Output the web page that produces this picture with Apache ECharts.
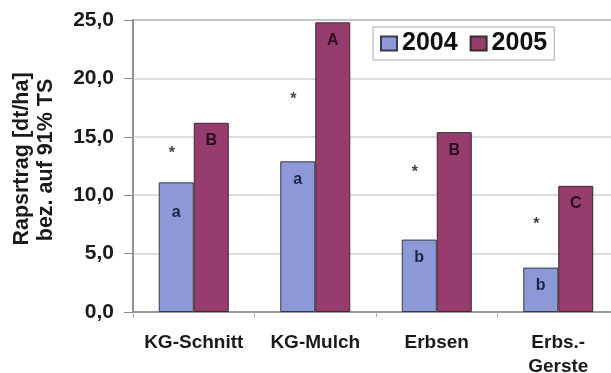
<!DOCTYPE html>
<html>
<head>
<meta charset="utf-8">
<script src="https://cdn.jsdelivr.net/npm/echarts@6/dist/echarts.min.js"></script>
<style>
  html, body { margin: 0; padding: 0; background: #fff; }
  #chart { width: 611px; height: 373px; }
</style>
</head>
<body>
<div id="chart"></div>
<script>
// Rapsertrag je Vorfrucht, 2004 und 2005
const categories = ['KG-Schnitt', 'KG-Mulch', 'Erbsen', 'Erbs.-\nGerste'];
const yield2004 = [11.1, 12.9, 6.2, 3.8];
const yield2005 = [16.2, 24.8, 15.4, 10.8];
const letters2004 = ['a', 'a', 'b', 'b'];
const letters2005 = ['B', 'A', 'B', 'C'];
// Höhe der Signifikanz-Sternchen (*) zwischen den Jahren
const starHeights = [13.8, 18.4, 12.2, 7.7];
const yTicks = [0, 5, 10, 15, 20, 25];
const yTickLabels = ['0,0', '5,0', '10,0', '15,0', '20,0', '25,0'];

const FONT = '"Liberation Sans", Arial, sans-serif';
const chart = echarts.init(document.getElementById('chart'), null, { renderer: 'canvas' });

chart.setOption({
  animation: false,
  textStyle: { fontFamily: FONT },
  grid: {
    left: 133, right: -8, top: 20, bottom: 61,
    outerBoundsMode: 'none', containLabel: false,
    show: true, borderColor: '#8a8a8a', borderWidth: 1.5, backgroundColor: 'transparent'
  },
  legend: {
    data: ['2004', '2005'],
    left: 373, top: 27,
    icon: 'rect', itemWidth: 16, itemHeight: 14, itemGap: 12,
    padding: [4, 7, 4, 7],
    borderColor: '#a8a8a8', borderWidth: 1, backgroundColor: '#fff',
    textStyle: { fontFamily: FONT, fontSize: 25, fontWeight: 'bold', color: '#111' }
  },
  xAxis: {
    type: 'category',
    data: categories,
    axisLine: { lineStyle: { color: '#8a8a8a', width: 1.5 } },
    axisTick: { show: true, interval: 0, length: 5, lineStyle: { color: '#aaa' } },
    axisLabel: {
      interval: 0, margin: 19, fontFamily: FONT, fontSize: 19, fontWeight: 'bold',
      color: '#1a1a1a', lineHeight: 24
    }
  },
  yAxis: {
    type: 'value',
    min: 0, max: 25, interval: 5,
    axisLine: { show: true, lineStyle: { color: '#8a8a8a', width: 1.5 } },
    axisTick: { show: true, inside: false, length: 9, lineStyle: { color: '#8a8a8a' } },
    axisLabel: {
      margin: 19, fontFamily: FONT, fontSize: 21, fontWeight: 'bold', color: '#1a1a1a',
      formatter: v => yTickLabels[yTicks.indexOf(v)]
    },
    splitLine: { lineStyle: { color: '#cfcfcf', width: 1.5 } }
  },
  series: [
    {
      name: '2004', type: 'bar',
      data: yield2004.map((v, i) => ({
        value: v,
        label: { distance: i === 0 ? 22 : 10 }
      })),
      barWidth: 35, barGap: '0%',
      itemStyle: { color: '#8c99d6', borderColor: '#3a3a4a', borderWidth: 1 },
      label: {
        show: true, position: 'insideTop',
        formatter: p => letters2004[p.dataIndex],
        fontFamily: FONT, fontSize: 16, fontWeight: 'bold', color: '#1c2448'
      }
    },
    {
      name: '2005', type: 'bar',
      data: yield2005,
      barWidth: 35,
      itemStyle: { color: '#963d6e', borderColor: '#3a2a30', borderWidth: 1 },
      label: {
        show: true, position: 'insideTop', distance: 10,
        formatter: p => letters2005[p.dataIndex],
        fontFamily: FONT, fontSize: 16, fontWeight: 'bold', color: '#2a0e1c'
      }
    },
    {
      name: 'Signifikanz', type: 'scatter',
      data: starHeights,
      symbolSize: 1,
      itemStyle: { color: 'rgba(0,0,0,0)' },
      label: {
        show: true, position: 'inside', offset: [-22, 3],
        formatter: '*', fontFamily: FONT, fontSize: 16, fontWeight: 'bold', color: '#111'
      },
      silent: true
    }
  ],
  graphic: [
    {
      type: 'text', x: 22, y: 159, rotation: Math.PI / 2,
      style: {
        text: 'Rapsrtrag [dt/ha]', font: 'bold 21.5px ' + FONT,
        fill: '#1a1a1a', textAlign: 'center', textVerticalAlign: 'middle'
      }
    },
    {
      type: 'text', x: 46, y: 160, rotation: Math.PI / 2,
      style: {
        text: 'bez. auf 91% TS', font: 'bold 21.5px ' + FONT,
        fill: '#1a1a1a', textAlign: 'center', textVerticalAlign: 'middle'
      }
    }
  ]
});
</script>
</body>
</html>
